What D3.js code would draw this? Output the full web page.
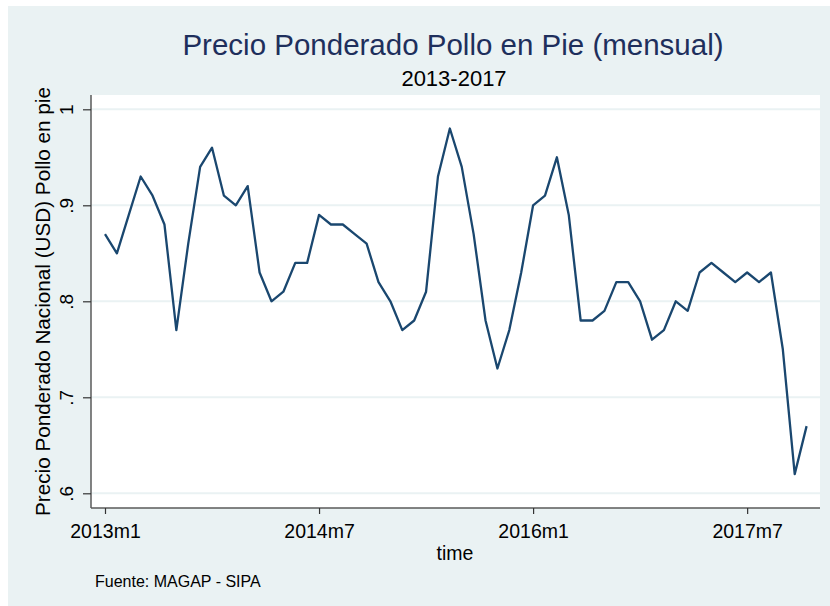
<!DOCTYPE html>
<html>
<head>
<meta charset="utf-8">
<script src="https://cdn.jsdelivr.net/npm/d3@7/dist/d3.min.js"></script>
<style>
  html, body { margin: 0; padding: 0; background: #fff; }
  text { font-family: "Liberation Sans", Arial, sans-serif; }
</style>
</head>
<body>
<div id="chart"></div>
<script>
'use strict';

// monthly index 0 = 2013m1 ... 59 = 2017m12
var precio = [
  0.87, 0.85, 0.89, 0.93, 0.91, 0.88, 0.77, 0.86, 0.94, 0.96, 0.91, 0.90,
  0.92, 0.83, 0.80, 0.81, 0.84, 0.84, 0.89, 0.88, 0.88, 0.87, 0.86, 0.82,
  0.80, 0.77, 0.78, 0.81, 0.93, 0.98, 0.94, 0.87, 0.78, 0.73, 0.77, 0.83,
  0.90, 0.91, 0.95, 0.89, 0.78, 0.78, 0.79, 0.82, 0.82, 0.80, 0.76, 0.77,
  0.80, 0.79, 0.83, 0.84, 0.83, 0.82, 0.83, 0.82, 0.83, 0.75, 0.62, 0.67
];
var xTicks = [0, 18, 36, 54];
var xTickLabels = ['2013m1', '2014m7', '2016m1', '2017m7'];
var yTicks = [0.6, 0.7, 0.8, 0.9, 1];
var yTickLabels = ['.6', '.7', '.8', '.9', '1'];

var width = 830, height = 606;
var plot = { left: 91, right: 820, top: 95, bottom: 508 };

var svg = d3.select('#chart').append('svg')
    .attr('width', width)
    .attr('height', height);

// graph background
svg.append('rect')
    .attr('x', 8).attr('y', 6)
    .attr('width', width - 8).attr('height', height - 6)
    .attr('fill', '#eaf2f3');

// plot region
svg.append('rect')
    .attr('x', plot.left).attr('y', plot.top)
    .attr('width', plot.right - plot.left)
    .attr('height', plot.bottom - plot.top)
    .attr('fill', '#ffffff');

var x = d3.scaleLinear().domain([0, 59]).range([105, 806.6]);
var y = d3.scaleLinear().domain([0.6, 1]).range([493.3, 109.3]);

// grid lines
svg.append('g').selectAll('line')
    .data(yTicks)
    .enter().append('line')
    .attr('x1', plot.left).attr('x2', plot.right)
    .attr('y1', function(d) { return y(d); })
    .attr('y2', function(d) { return y(d); })
    .attr('stroke', '#eaf2f3')
    .attr('stroke-width', 2);

// y axis
var yAxis = d3.axisLeft(y)
    .tickValues(yTicks)
    .tickSize(8)
    .tickFormat(function(d, i) { return yTickLabels[i]; });

var gy = svg.append('g')
    .attr('transform', 'translate(' + plot.left + ',0)')
    .call(yAxis);
gy.select('.domain')
    .attr('d', 'M0,' + plot.top + 'V' + plot.bottom)
    .attr('stroke', '#5a5a5a').attr('stroke-width', 1.5);
gy.selectAll('.tick line').attr('stroke', '#333').attr('stroke-width', 1.2);
gy.selectAll('.tick text')
    .attr('x', null).attr('dy', null)
    .attr('transform', 'translate(-18,0) rotate(-90)')
    .attr('text-anchor', 'middle')
    .style('font-size', '19px')
    .style('font-family', '"Liberation Sans", Arial, sans-serif')
    .attr('fill', '#000');

// x axis
var xAxis = d3.axisBottom(x)
    .tickValues(xTicks)
    .tickSize(6)
    .tickFormat(function(d, i) { return xTickLabels[i]; });

var gx = svg.append('g')
    .attr('transform', 'translate(0,' + plot.bottom + ')')
    .call(xAxis);
gx.select('.domain')
    .attr('d', 'M' + plot.left + ',0H' + plot.right)
    .attr('stroke', '#5a5a5a').attr('stroke-width', 1.5);
gx.selectAll('.tick line').attr('stroke', '#333').attr('stroke-width', 1.2);
gx.selectAll('.tick text')
    .attr('y', 30).attr('dy', null)
    .style('font-size', '19.5px')
    .style('font-family', '"Liberation Sans", Arial, sans-serif')
    .attr('fill', '#000');

// series line
var line = d3.line()
    .x(function(d, i) { return x(i); })
    .y(function(d) { return y(d); });

svg.append('path')
    .datum(precio)
    .attr('d', line)
    .attr('fill', 'none')
    .attr('stroke', '#1a476f')
    .attr('stroke-width', 2.3)
    .attr('stroke-linejoin', 'round');

// titles
svg.append('text')
    .attr('x', 453).attr('y', 55)
    .attr('text-anchor', 'middle')
    .style('font-size', '29.5px')
    .attr('fill', '#1e2f5c')
    .text('Precio Ponderado Pollo en Pie (mensual)');

svg.append('text')
    .attr('x', 454).attr('y', 86)
    .attr('text-anchor', 'middle')
    .style('font-size', '22px')
    .attr('fill', '#000')
    .text('2013-2017');

svg.append('text')
    .attr('transform', 'translate(50,' + ((plot.top + plot.bottom) / 2) + ') rotate(-90)')
    .attr('text-anchor', 'middle')
    .style('font-size', '20.7px')
    .attr('fill', '#000')
    .text('Precio Ponderado Nacional (USD) Pollo en pie');

svg.append('text')
    .attr('x', 455).attr('y', 560)
    .attr('text-anchor', 'middle')
    .style('font-size', '19.5px')
    .attr('fill', '#000')
    .text('time');

svg.append('text')
    .attr('x', 95).attr('y', 587)
    .style('font-size', '16px')
    .attr('fill', '#000')
    .text('Fuente: MAGAP - SIPA');
</script>
</body>
</html>
